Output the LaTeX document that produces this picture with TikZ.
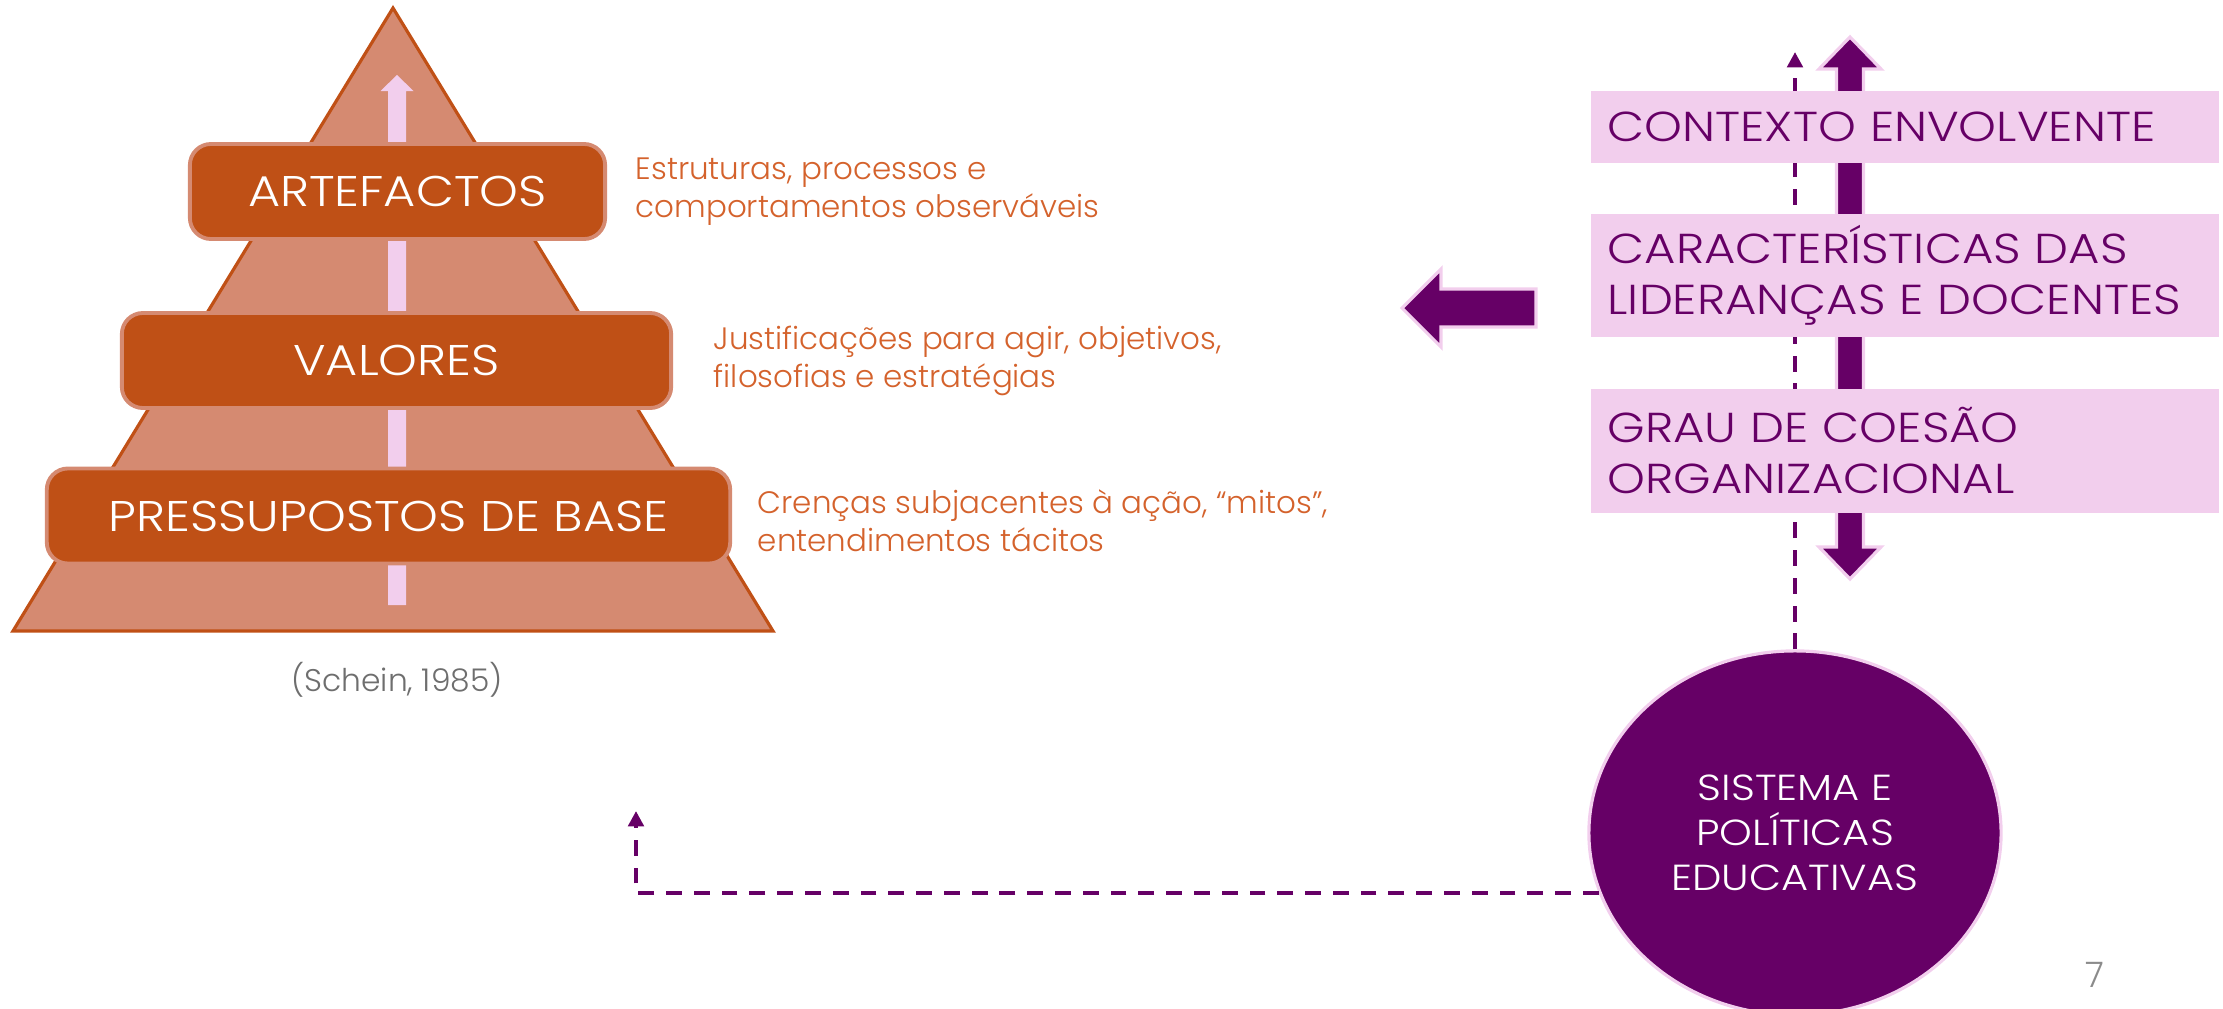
\documentclass[tikz,border=0pt]{standalone}
\usepackage{fontspec}
\setmainfont{Poppins Light}
\newfontfamily\capsfont{Poppins Light}[FakeStretch=1.15]
\usetikzlibrary{arrows.meta,shapes.geometric,positioning}
\definecolor{pyramidColor}{RGB}{213,138,113}
\definecolor{pyramidEdge}{RGB}{192,80,22}
\definecolor{tierColor}{RGB}{191,80,22}
\definecolor{remarkColor}{RGB}{212,98,44}
\definecolor{pinkColor}{RGB}{242,206,237}
\definecolor{purpleColor}{RGB}{102,0,102}
\definecolor{citeColor}{RGB}{110,110,110}
\tikzset{tier/.style={fill=tierColor, draw=pyramidColor, line width=1.1pt, rounded corners=6pt, text=white, font=\capsfont\fontsize{12.2}{14}\selectfont, minimum height=0.95cm, inner sep=0pt}}
\tikzset{remark/.style={text=remarkColor, align=left, font=\fontsize{8.8}{10.8}\selectfont, inner sep=0pt}}
\tikzset{factorbar/.style={fill=pinkColor, text=purpleColor, align=left, text width=5.94cm, minimum width=6.28cm, inner xsep=0.17cm, inner ysep=0pt, font=\capsfont\fontsize{11.9}{14.5}\selectfont, anchor=north west}}
\tikzstyle{dashline} = [purpleColor, line width=1.1pt, dash pattern=on 4.5pt off 3.4pt, -{Triangle[width=4.4pt,length=4.4pt]}]
\tikzstyle{blockarrow} = [fill=purpleColor, draw=pinkColor, line width=0.9pt]

\begin{document}
\begin{tikzpicture}[x=0.01cm, y=-0.01cm]
	\useasboundingbox (0,0) rectangle (2223,1009);

	% Pyramid
	\filldraw[fill=pyramidColor, draw=pyramidEdge, line width=0.9pt] (393,8) -- (773,631) -- (13,631) -- cycle;
	\fill[pinkColor] (397,75) -- (413.5,91) -- (406,91) -- (406,605) -- (388,605) -- (388,91) -- (380.5,91) -- cycle;

	% Nodes
	\node (artefactos) [tier, minimum width=4.15cm] at (397.5,191.5) {ARTEFACTOS};
	\node (valores) [tier, minimum width=5.49cm] at (396.5,360.5) {VALORES};
	\node (pressupostos) [tier, minimum width=6.83cm] at (388.5,516) {PRESSUPOSTOS DE BASE};

	\node (artnote) [remark, right=0.28cm of artefactos] {Estruturas, processos e\\ comportamentos observáveis};
	\node (valnote) [remark, right=0.40cm of valores] {Justificações para agir, objetivos,\\ filosofias e estratégias};
	\node (basenote) [remark, right=0.25cm of pressupostos, yshift=-0.05cm] {Crenças subjacentes à ação, “mitos”,\\ entendimentos tácitos};

	\node (fonte) [text=citeColor, font=\fontsize{8.9}{11}\selectfont] at (397,680) {(Schein, 1985)};

	\node (sistema) [ellipse, fill=purpleColor, draw=pinkColor, line width=0.9pt, minimum width=4.12cm, minimum height=3.64cm, text=white, align=center, font=\capsfont\fontsize{10.3}{12.8}\selectfont] at (1795,833) {SISTEMA E\\ POLÍTICAS\\ EDUCATIVAS};

	\coordinate (contextotop) at (1795,52);
	\coordinate (culturatop) at (636,811);

	% Connectors
	\draw[dashline] (sistema) -- (contextotop);
	\draw[dashline] (sistema.197) -| (culturatop);

	\filldraw[blockarrow] (1850,37) -- (1881,69) -- (1863.5,69) -- (1863.5,547) -- (1881,547) -- (1850,579) -- (1819,547) -- (1836.5,547) -- (1836.5,69) -- (1819,69) -- cycle;
	\filldraw[blockarrow] (1402,308) -- (1441,269) -- (1441,289) -- (1536,289) -- (1536,327) -- (1441,327) -- (1441,347) -- cycle;

	% Factors
	\node (contexto) [factorbar, minimum height=0.72cm] at (1590,90) {CONTEXTO ENVOLVENTE};
	\node (liderancas) [factorbar, minimum height=1.23cm, below=0.5cm of contexto] {CARACTERÍSTICAS DAS\\ LIDERANÇAS E DOCENTES};
	\node (coesao) [factorbar, minimum height=1.24cm, below=0.5cm of liderancas] {GRAU DE COESÃO\\ ORGANIZACIONAL};

	\node (pagina) [text=citeColor!80, font=\fontsize{10}{12}\selectfont] at (2095,975) {7};

\end{tikzpicture}
\end{document}
